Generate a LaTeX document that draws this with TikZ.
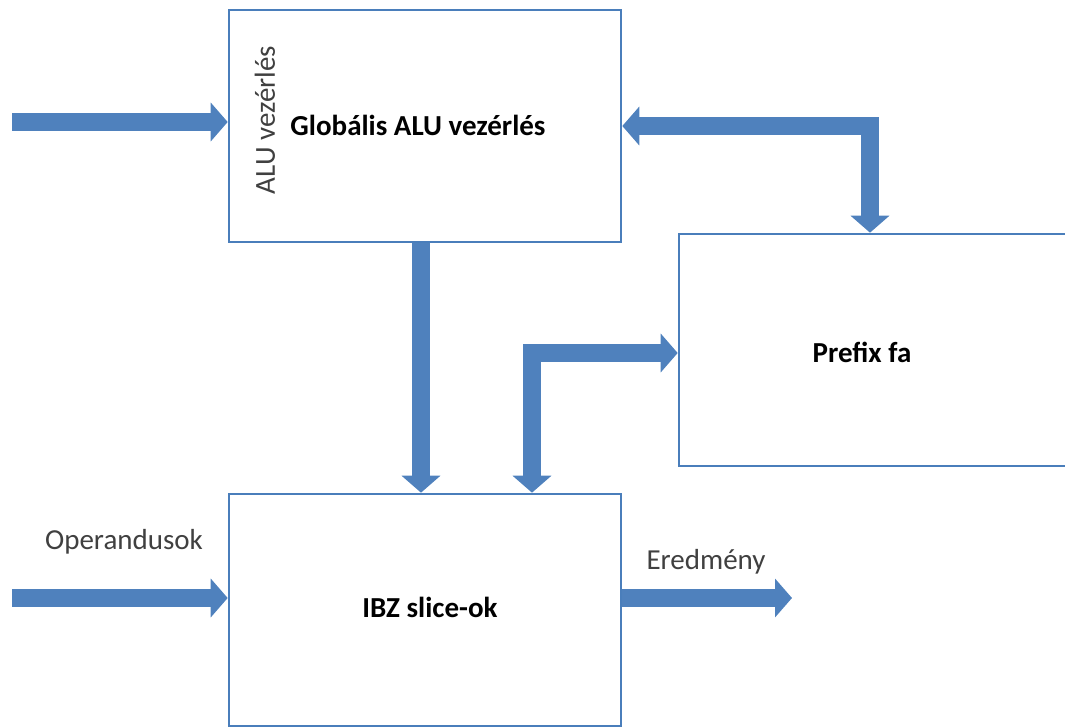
\documentclass[tikz,border=0pt]{standalone}
\usepackage{fontspec}
\setmainfont{Carlito}
\usetikzlibrary{arrows.meta,calc}
\definecolor{boxline}{RGB}{74,126,187}
\definecolor{arrowfill}{RGB}{79,129,189}
\definecolor{labelgray}{RGB}{64,64,64}
\tikzset{
  blockbox/.style={draw=boxline, line width=2.6pt, fill=white,
    minimum width=392pt, minimum height=232pt, inner sep=0pt},
  bigtip/.tip={Triangle[width=38pt,length=17pt]},
  busarrow/.style={draw=arrowfill, line width=18pt, line join=miter, line cap=butt},
  boldlabel/.style={font=\fontsize{29}{34}\selectfont\bfseries, text=black, inner sep=0pt},
  plainlabel/.style={font=\fontsize{29}{34}\selectfont, text=labelgray, inner sep=0pt}
}
\begin{document}
\begin{tikzpicture}[x=1pt,y=-1pt]
  \useasboundingbox (0,0) rectangle (1065,727);

  % the three blocks
  \node[blockbox] (alu)    at (425,126) {};
  \node[blockbox] (prefix) at (875,350) {};
  \node[blockbox] (ibz)    at (425,610) {};

  % block titles
  \node[boldlabel] (alutitle) at (418,125) {Globális ALU vezérlés};
  \node[boldlabel] (prefixtitle) at (862,352) {Prefix fa};
  \node[boldlabel] (ibztitle) at (430,607) {IBZ slice-ok};
  \node[plainlabel, rotate=90] (aluside) at (265,120) {ALU vezérlés};

  % free ends of the external buses
  \coordinate (ctrlin)  at (12,122);
  \coordinate (opin)    at (12,598);
  \coordinate (resout)  at (792,598);

  % control input
  \draw[busarrow, -{bigtip}] (ctrlin) -- (ctrlin -| alu.west);
  % global control down to the slices
  \draw[busarrow, -{bigtip}] ($(alu.south)+(-4,0)$) -- ($(ibz.north)+(-4,0)$);
  % global control <-> prefix tree
  \draw[busarrow, {bigtip}-{bigtip}] (alu.east) -| ($(prefix.north)+(-5,0)$);
  % slices <-> prefix tree
  \draw[busarrow, {bigtip}-{bigtip}] ($(ibz.north)+(107,0)$) |- ($(prefix.west)+(0,3)$);
  % operands in, result out
  \draw[busarrow, -{bigtip}] (opin) -- (opin -| ibz.west);
  \draw[busarrow, -{bigtip}] (opin -| ibz.east) -- (resout);

  % bus labels
  \node[plainlabel] (oplabel) at (124,542) {Operandusok};
  \node[plainlabel] (reslabel) at (706,562) {Eredmény};
\end{tikzpicture}
\end{document}
